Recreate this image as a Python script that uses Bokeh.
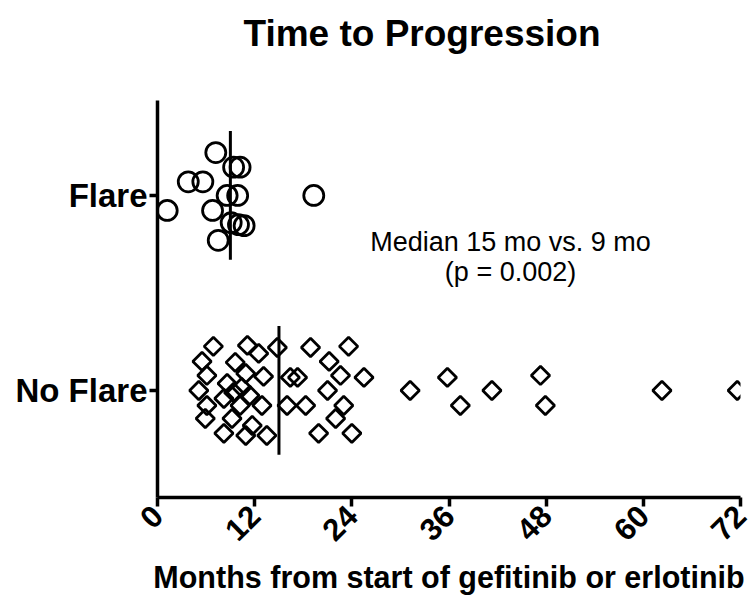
import numpy as np
from bokeh.plotting import figure
from bokeh.models import FixedTicker, Label, Title
from bokeh.embed import file_html
from bokeh.resources import INLINE

# ---- data ----
groups = ["No Flare", "Flare"]
x_ticks = [0, 12, 24, 36, 48, 60, 72]

flare_months = [7.2, 9.4, 10.2, 3.8, 5.6, 8.6, 9.9, 19.3, 1.2, 6.8, 9.1, 10.0, 10.7, 7.5]
flare_jitter = [0.22, 0.145, 0.145, 0.07, 0.07, 0.0, 0.0, 0.0, -0.077, -0.077, -0.14, -0.15, -0.155, -0.23]

noflare_months = [6.9, 11.1, 12.5, 14.8, 18.9, 23.6,
                  5.5, 9.6, 21.2,
                  6.1, 10.9, 13.1, 16.4, 17.3, 22.6, 25.5, 35.8, 47.3,
                  5.1, 8.6, 9.4, 10.4, 11.4, 21.0, 31.2, 41.3, 62.3, 71.6,
                  6.1, 10.2, 12.9, 16.0, 18.3, 23.0, 37.4, 47.9,
                  5.9, 9.2, 11.7, 22.0,
                  8.2, 10.9, 13.5, 19.9, 24.0,
                  8.2]
noflare_jitter = [0.226, 0.231, 0.19, 0.22, 0.22, 0.226,
                  0.149, 0.144, 0.149,
                  0.077, 0.087, 0.072, 0.067, 0.067, 0.077, 0.067, 0.067, 0.077,
                  0.0, 0.036, -0.01, 0.015, -0.026, 0.0, 0.0, 0.0, 0.0, 0.0,
                  -0.077, -0.077, -0.077, -0.077, -0.077, -0.077, -0.077, -0.077,
                  -0.144, -0.144, -0.18, -0.144,
                  -0.22, -0.231, -0.231, -0.22, -0.22,
                  -0.041]

medians = [15, 9]          # No Flare, Flare
median_halfspan = 0.33

title_text = "Time to Progression"
xlabel = "Months from start of gefitinib or erlotinib"
note1 = "Median 15 mo vs. 9 mo"
note2 = "(p = 0.002)"

FONT = "Liberation Sans"
Y0, Y1 = -0.549, 1.487

p = figure(width=752, height=600, x_range=(0, 72), y_range=(Y0, Y1), title=None,
           output_backend="svg", toolbar_location=None,
           min_border_left=157, min_border_right=12, min_border_top=100, min_border_bottom=103)
p.grid.visible = False
p.outline_line_color = None
p.background_fill_color = "white"

# spacer between frame and title, then the title itself (further out)
p.add_layout(Title(text=" ", text_font_size="1px", standoff=44), "above")
p.add_layout(Title(text=title_text, text_font=FONT, text_font_size="37px",
                   text_font_style="bold", text_color="black", align="left",
                   offset=86, standoff=0), "above")

# x axis
xa = p.xaxis[0]
xa.ticker = FixedTicker(ticks=x_ticks)
xa.minor_tick_line_color = None
xa.axis_line_width = 3.5
xa.major_tick_line_width = 3.5
xa.major_tick_out = 9
xa.major_tick_in = 0
xa.major_label_orientation = np.pi / 4
xa.major_label_text_font = FONT
xa.major_label_text_font_size = "31px"
xa.major_label_text_font_style = "bold"
xa.major_label_text_color = "black"
xa.major_label_standoff = 4
xa.axis_label = xlabel
xa.axis_label_text_font = FONT
xa.axis_label_text_font_size = "30.5px"
xa.axis_label_text_font_style = "bold"
xa.axis_label_text_color = "black"
xa.axis_label_standoff = 7
xa.axis_line_color = "black"

# y axis
ya = p.yaxis[0]
ya.ticker = FixedTicker(ticks=[0, 1])
ya.major_label_overrides = {0: groups[0], 1: groups[1]}
ya.minor_tick_line_color = None
ya.axis_line_width = 3.5
ya.major_tick_line_width = 3.5
ya.major_tick_out = 8
ya.major_tick_in = 0
ya.major_label_text_font = FONT
ya.major_label_text_font_size = "33px"
ya.major_label_text_font_style = "bold"
ya.major_label_text_color = "black"
ya.major_label_standoff = 2

# points
fy = [1 + j for j in flare_jitter]
ny = [0 + j for j in noflare_jitter]
p.scatter(flare_months, fy, marker="circle", size=20, fill_color=None,
          line_color="black", line_width=2.8)
p.scatter(noflare_months, ny, marker="square", angle=np.pi / 4, size=13,
          fill_color=None, line_color="black", line_width=2.8)

# median lines
centers = [0, 1]
p.segment(x0=medians, y0=[c - median_halfspan for c in centers],
          x1=medians, y1=[c + median_halfspan for c in centers],
          line_color="black", line_width=3)

# annotation
for txt, yy in [(note1, 0.76), (note2, 0.605)]:
    p.add_layout(Label(x=43.6, y=yy, text=txt, text_font=FONT, text_font_size="27px",
                       text_align="center", text_baseline="middle", text_color="black"))

open("out.html", "w").write(file_html(p, INLINE))
